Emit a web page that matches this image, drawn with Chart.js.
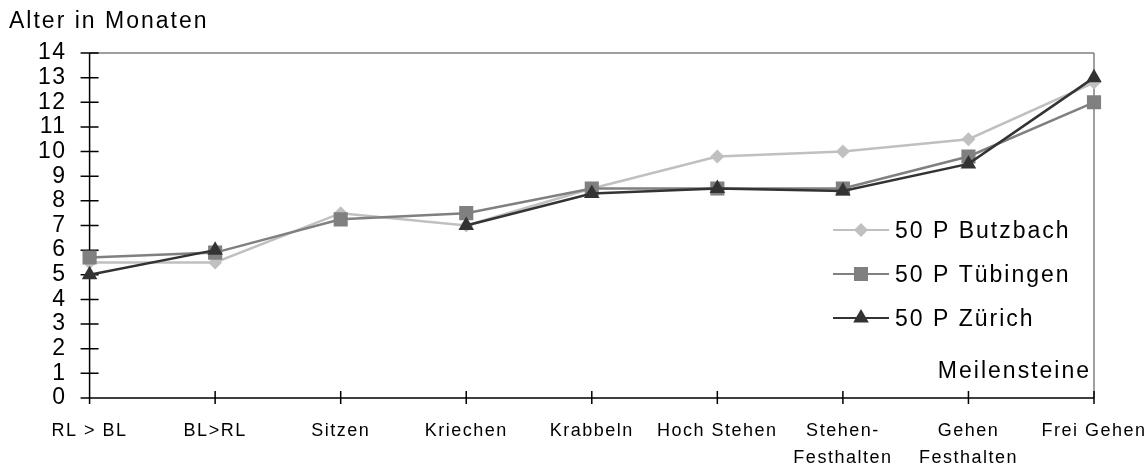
<!DOCTYPE html>
<html>
<head>
<meta charset="utf-8">
<script src="https://cdn.jsdelivr.net/npm/chart.js@4/dist/chart.umd.min.js"></script>
<style>
  html, body { margin: 0; padding: 0; background: #fff; }
</style>
</head>
<body>
<canvas id="meilensteinChart" width="1145" height="471"></canvas>
<script>
// Daten
var meilensteine = ['RL > BL', 'BL>RL', 'Sitzen', 'Kriechen', 'Krabbeln', 'Hoch Stehen',
    ['Stehen-', 'Festhalten'], ['Gehen', 'Festhalten'], 'Frei Gehen'];
var butzbach = [5.5, 5.5, 7.5, 7.0, 8.5, 9.8, 10.0, 10.5, 12.8];
var tuebingen = [5.7, 5.9, 7.25, 7.5, 8.5, 8.5, 8.5, 9.8, 12.0];
var zuerich = [5.0, 6.0, null, 7.0, 8.3, 8.5, 8.4, 9.5, 13.0];
var serienNamen = ['50 P Butzbach', '50 P Tübingen', '50 P Zürich'];
var yMin = 0, yMax = 14, yStep = 1;
var yTitel = 'Alter in Monaten';
var xTitel = 'Meilensteine';

var farben = ['#c0c0c0', '#808080', '#333333'];
var symbole = ['rectRot', 'rect', 'triangle'];
var radien = [7, 10, 9];

Chart.defaults.font.family = '"Liberation Sans", Arial, sans-serif';
Chart.defaults.color = '#000';

// Markierung für die Legende zeichnen
function zeichneSymbol(ctx, art, x, y, farbe) {
    ctx.fillStyle = farbe;
    ctx.beginPath();
    if (art === 'rectRot') {
        ctx.moveTo(x, y - 7); ctx.lineTo(x + 7, y); ctx.lineTo(x, y + 7); ctx.lineTo(x - 7, y);
    } else if (art === 'rect') {
        ctx.rect(x - 7, y - 7, 14, 14);
    } else {
        ctx.moveTo(x, y - 9); ctx.lineTo(x + 7.8, y + 4.5); ctx.lineTo(x - 7.8, y + 4.5);
    }
    ctx.closePath();
    ctx.fill();
}

// Achsen, Rahmen und Teilstriche
var rahmenPlugin = {
    id: 'rahmen',
    beforeDraw: function (chart) {
        chart.ctx.letterSpacing = '1.5px';
    },
    beforeDatasetsDraw: function (chart) {
        var ctx = chart.ctx, a = chart.chartArea;
        var xs = chart.scales.x, ys = chart.scales.y;
        ctx.save();
        ctx.lineWidth = 1.5;
        ctx.strokeStyle = '#808080';
        ctx.beginPath();
        ctx.moveTo(a.left, a.top); ctx.lineTo(a.right, a.top);
        ctx.moveTo(a.right, a.top); ctx.lineTo(a.right, a.bottom);
        ctx.stroke();
        ctx.strokeStyle = '#000';
        ctx.beginPath();
        ctx.moveTo(a.left, a.top); ctx.lineTo(a.left, a.bottom);
        ctx.moveTo(a.left - 9, a.bottom); ctx.lineTo(a.right, a.bottom);
        ys.ticks.forEach(function (t, i) {
            var y = ys.getPixelForTick(i);
            ctx.moveTo(a.left - 9, y); ctx.lineTo(a.left + 9, y);
        });
        xs.ticks.forEach(function (t, i) {
            var x = xs.getPixelForTick(i);
            ctx.moveTo(x, a.bottom - 7); ctx.lineTo(x, a.bottom + 6);
        });
        ctx.stroke();
        ctx.restore();
    },
    afterDraw: function (chart) {
        var ctx = chart.ctx, a = chart.chartArea;
        ctx.save();
        ctx.letterSpacing = '2px';
        ctx.font = '23px "Liberation Sans", Arial, sans-serif';
        ctx.fillStyle = '#000';
        ctx.textBaseline = 'alphabetic';
        ctx.textAlign = 'left';
        ctx.fillText(yTitel, 9, 28);

        // Legende
        var lx = a.right - 261;
        for (var i = 0; i < serienNamen.length; i++) {
            var ly = a.top + 177 + i * 44;
            ctx.strokeStyle = farben[i];
            ctx.lineWidth = 2;
            ctx.beginPath();
            ctx.moveTo(lx, ly); ctx.lineTo(lx + 56, ly);
            ctx.stroke();
            zeichneSymbol(ctx, symbole[i], lx + 28, ly, farben[i]);
            ctx.fillStyle = '#000';
            ctx.fillText(serienNamen[i], lx + 62, ly + 8);
        }

        ctx.textAlign = 'right';
        ctx.fillText(xTitel, a.right - 3, a.bottom - 20);
        ctx.restore();
    }
};

var reihen = [butzbach, tuebingen, zuerich];
var datasets = reihen.map(function (werte, i) {
    return {
        label: serienNamen[i],
        data: werte,
        borderColor: farben[i],
        backgroundColor: farben[i],
        pointBackgroundColor: farben[i],
        pointBorderColor: farben[i],
        pointBorderWidth: 0,
        pointStyle: symbole[i],
        pointRadius: radien[i],
        borderWidth: 2.5,
        tension: 0,
        spanGaps: false,
        order: 3 - i
    };
});

var ctxChart = document.getElementById('meilensteinChart').getContext('2d');
var meilensteinChart = new Chart(ctxChart, {
    type: 'line',
    data: { labels: meilensteine, datasets: datasets },
    options: {
        responsive: false,
        animation: false,
        layout: { padding: { left: 18, top: 53, right: 0, bottom: 0 } },
        plugins: { legend: { display: false }, tooltip: { enabled: false } },
        scales: {
            x: {
                offset: false,
                grid: { display: false, drawTicks: false },
                border: { display: false },
                ticks: {
                    autoSkip: false,
                    maxRotation: 0,
                    padding: 20,
                    color: '#000',
                    font: { size: 18, lineHeight: 1.5 }
                },
                afterFit: function (scale) {
                    scale.height = 73;
                    scale.paddingLeft = 0;
                    scale.paddingRight = 51;
                }
            },
            y: {
                min: yMin,
                max: yMax,
                grid: { display: false, drawTicks: false },
                border: { display: false },
                ticks: {
                    stepSize: yStep,
                    autoSkip: false,
                    padding: 23,
                    color: '#000',
                    font: { size: 23, lineHeight: 1 }
                }
            }
        }
    },
    plugins: [rahmenPlugin]
});
</script>
</body>
</html>
